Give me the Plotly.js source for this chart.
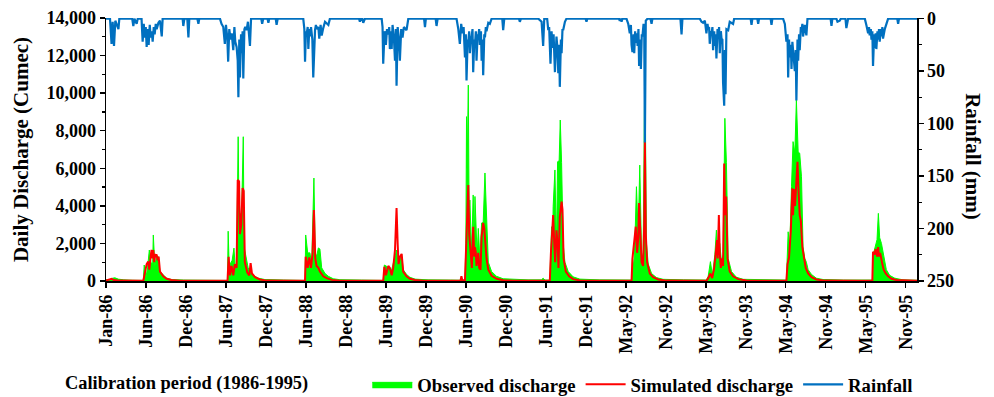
<!DOCTYPE html>
<html>
<head>
<meta charset="utf-8">
<script src="https://cdn.plot.ly/plotly-3.0.1.min.js"></script>
<style>
  html, body { margin: 0; padding: 0; background: #ffffff; }
  #chart { width: 994px; height: 397px; }
</style>
</head>
<body>
<div id="chart"></div>
<script>
// Day index 0 = 1 Jan 1986 (Excel category axis, one category per day)
const tickDays = [0,180,360,540,720,900,1080,1260,1440,1620,1800,1980,2160,2340,2520,2700,2880,3060,3240,3420,3600];
const tickLabels = ['Jan-86','Jun-86','Dec-86','Jun-87','Dec-87','Jun-88','Dec-88','Jun-89','Dec-89','Jun-90','Dec-90',
  'Jun-91','Dec-91','May-92','Nov-92','May-93','Nov-93','May-94','Nov-94','May-95','Nov-95'];

// Observed discharge (cumec): [day, value]
const observed = [
 [0,60],[20,80],[30,150],[40,170],[55,100],[80,60],[120,40],[160,30],
 [168,30],[172,850],[180,200],[187,700],[195,1650],[202,1000],[210,900],[213,2450],[220,800],[228,1350],[235,1300],[243,500],[258,300],[273,150],[295,80],[350,50],[450,40],[515,30],
 [547,30],[550,2650],[555,600],[561,950],[568,1100],[576,1750],[582,700],[588,1000],[595,7680],[600,2500],[603,3600],[610,3300],[618,7680],[622,1800],[630,1200],[640,700],[648,500],[663,300],[685,150],[715,80],[800,50],[880,40],
 [896,30],[899,2450],[908,1490],[918,1500],[926,900],[936,5480],[942,1500],[948,1300],[956,1760],[963,1700],[971,700],[986,400],[1001,250],[1023,120],[1053,70],[1150,50],[1240,40],
 [1248,30],[1253,850],[1263,800],[1275,700],[1286,600],[1298,1200],[1308,1650],[1316,800],[1323,1250],[1331,1400],[1338,600],[1353,350],[1368,200],[1391,100],[1450,60],[1550,50],[1598,40],
 [1600,120],[1606,40],[1616,50],[1620,2000],[1623,8750],[1626,6000],[1631,10430],[1635,3000],[1638,4310],[1646,1500],[1653,4580],[1658,2000],[1661,4500],[1665,2820],[1671,1300],[1676,2800],[1683,1200],[1691,3090],[1698,3100],[1706,5750],[1713,3000],[1721,1000],[1736,500],[1758,250],[1788,120],[1850,70],[1900,60],[1960,60],[1968,150],[1976,50],
 [1998,50],[2006,2890],[2010,1500],[2013,3960],[2021,5910],[2028,1700],[2033,6350],[2040,6400],[2045,8570],[2051,6300],[2058,2000],[2066,1000],[2081,500],[2103,220],[2133,100],[2220,60],[2300,50],[2360,40],
 [2366,50],[2370,1220],[2376,800],[2381,2090],[2388,5020],[2396,2500],[2403,6170],[2411,1500],[2418,1200],[2426,11940],[2433,2000],[2441,900],[2456,400],[2478,180],[2508,90],[2600,60],[2680,40],
 [2703,50],[2711,250],[2721,1030],[2730,300],[2741,1400],[2748,2710],[2756,800],[2763,2000],[2771,1000],[2778,1400],[2786,8660],[2793,6300],[2801,1200],[2816,500],[2838,200],[2868,90],[2950,60],[3050,40],
 [3063,50],[3071,2620],[3078,1750],[3086,5020],[3093,7420],[3101,6810],[3108,9630],[3116,6880],[3123,6800],[3131,5550],[3138,1800],[3146,1200],[3153,1000],[3161,600],[3176,350],[3198,150],[3228,80],[3320,50],[3440,40],
 [3453,50],[3456,1500],[3465,2000],[3471,2200],[3477,3600],[3483,2300],[3491,2000],[3498,1500],[3506,900],[3513,600],[3528,300],[3551,150],[3588,60],[3651,40]
];

// Simulated discharge (cumec): [day, value]
const simulated = [
 [0,20],[15,60],[25,120],[35,50],[60,20],[168,10],[172,300],[183,900],[190,1030],[195,600],[201,1300],[205,1650],[210,1200],[213,1650],[217,1000],[222,1400],[228,1380],[233,1100],[237,1300],[243,500],[258,250],[273,120],[295,50],[333,15],[500,10],
 [547,10],[552,1290],[558,300],[565,800],[573,300],[580,900],[588,700],[593,5380],[599,5300],[603,2500],[609,3000],[615,4950],[620,4800],[625,1000],[636,450],[645,300],[651,950],[657,400],[671,200],[693,80],[723,20],[880,10],
 [896,10],[899,1290],[908,700],[915,1250],[923,700],[930,1500],[936,3780],[942,1200],[948,800],[956,700],[963,500],[978,250],[993,150],[1016,60],[1053,15],[1240,10],
 [1248,10],[1253,760],[1260,300],[1271,800],[1278,690],[1286,300],[1293,700],[1301,1650],[1308,3880],[1313,2000],[1317,900],[1323,1290],[1331,1440],[1338,500],[1353,250],[1368,120],[1391,50],[1428,15],[1596,10],[1600,250],[1604,50],
 [1616,10],[1620,1500],[1625,3500],[1631,5110],[1635,2500],[1638,2020],[1643,1000],[1647,700],[1653,2890],[1658,1300],[1661,1800],[1665,1500],[1668,800],[1676,1500],[1680,700],[1686,600],[1691,2360],[1698,3090],[1703,2800],[1709,2000],[1713,1200],[1721,600],[1736,280],[1758,120],[1788,40],[1833,10],
 [1998,10],[2003,1500],[2009,2600],[2013,3510],[2018,2000],[2022,1000],[2028,2700],[2033,2000],[2037,700],[2043,3420],[2051,4220],[2055,3800],[2060,1200],[2070,500],[2085,250],[2103,100],[2133,30],[2300,10],
 [2366,10],[2370,1200],[2378,2000],[2385,2890],[2391,1500],[2396,2300],[2400,4150],[2405,2500],[2411,1000],[2418,800],[2423,3000],[2426,7420],[2430,2500],[2436,1000],[2448,400],[2463,200],[2486,80],[2523,20],[2650,10],
 [2703,10],[2711,150],[2721,400],[2729,150],[2738,700],[2745,1500],[2751,2180],[2754,1200],[2759,3510],[2763,1500],[2768,700],[2775,1200],[2778,800],[2783,6260],[2787,3500],[2792,4500],[2798,1200],[2808,500],[2823,250],[2846,100],[2883,25],[3000,10],
 [3063,10],[3068,900],[3075,1250],[3083,2700],[3090,4930],[3093,3500],[3098,4900],[3102,4000],[3108,5500],[3113,6350],[3117,5000],[3123,3500],[3128,3200],[3135,1800],[3143,1200],[3150,700],[3161,400],[3176,200],[3198,80],[3236,20],[3400,10],
 [3450,10],[3453,1560],[3459,1400],[3465,1700],[3471,1300],[3476,1800],[3480,1300],[3485,1500],[3491,1000],[3495,900],[3501,600],[3510,400],[3521,250],[3536,120],[3558,50],[3603,15],[3651,10]
];

// Rainfall (mm): [day, value]
const rainfall = [
 [0,0],[18,0],[25,24],[30,3],[36,26],[42,2],[56,10],[60,0],[118,0],[123,7],[128,0],[138,5],[143,0],
 [160,0],[165,22],[170,5],[174,18],[179,8],[183,27],[188,10],[192,25],[197,6],[201,18],[206,12],[210,22],[215,8],[219,15],[224,5],[228,10],[236,4],[243,2],[251,17],[255,0],
 [345,0],[348,7],[353,0],[366,0],[371,18],[375,0],[411,0],[416,5],[420,0],
 [513,0],[520,5],[528,8],[535,24],[540,6],[546,18],[550,41],[555,10],[561,20],[566,14],[573,30],[578,8],[582,22],[588,27],[593,40],[596,75],[600,20],[603,56],[608,15],[611,33],[615,12],[618,57],[623,10],[627,8],[633,11],[639,3],[648,26],[653,0],
 [699,0],[703,5],[708,0],[727,0],[731,4],[735,0],[764,0],[768,6],[773,0],
 [888,0],[893,10],[896,41],[900,12],[903,15],[908,8],[911,29],[915,10],[918,17],[923,8],[929,20],[933,56],[938,12],[941,11],[945,6],[948,10],[956,8],[960,19],[966,6],[971,16],[978,9],[986,3],[1001,6],[1008,0],
 [1139,0],[1143,3],[1147,0],[1154,0],[1158,4],[1166,0],
 [1241,0],[1245,8],[1248,43],[1254,12],[1260,25],[1265,10],[1271,15],[1275,8],[1278,29],[1283,12],[1286,29],[1290,6],[1296,18],[1301,40],[1305,10],[1308,64],[1313,8],[1319,20],[1323,40],[1329,10],[1335,18],[1341,8],[1353,11],[1361,0],
 [1432,0],[1436,8],[1440,0],[1484,0],[1488,7],[1493,0],
 [1578,0],[1586,10],[1593,24],[1599,5],[1605,14],[1610,8],[1616,37],[1620,15],[1623,59],[1628,20],[1631,22],[1635,12],[1638,33],[1643,18],[1646,17],[1650,10],[1653,51],[1658,20],[1661,25],[1665,12],[1668,40],[1673,15],[1676,17],[1680,10],[1683,25],[1688,12],[1691,40],[1695,20],[1698,54],[1703,15],[1706,18],[1710,8],[1713,12],[1721,4],[1728,5],[1736,0],
 [1784,0],[1788,11],[1793,0],[1859,0],[1863,3],[1868,0],
 [1946,0],[1961,3],[1968,26],[1973,0],[1986,0],[1991,11],[1995,8],[2001,43],[2006,12],[2010,28],[2015,15],[2021,51],[2025,20],[2028,17],[2033,30],[2036,52],[2040,25],[2043,65],[2048,20],[2051,33],[2055,10],[2058,11],[2066,3],[2073,0],
 [2159,0],[2163,3],[2167,0],[2309,0],[2313,2],[2317,0],[2321,3],[2325,0],
 [2343,0],[2351,5],[2358,14],[2363,6],[2366,25],[2370,32],[2375,15],[2378,33],[2382,12],[2385,23],[2390,14],[2393,26],[2397,10],[2400,45],[2405,20],[2408,48],[2412,15],[2415,17],[2420,5],[2423,10],[2426,118],[2430,2],[2438,0],
 [2451,0],[2456,5],[2460,0],[2586,0],[2591,15],[2595,0],
 [2673,0],[2681,3],[2688,4],[2696,2],[2703,14],[2708,5],[2711,10],[2715,8],[2718,24],[2723,12],[2726,14],[2730,8],[2733,30],[2738,12],[2741,26],[2745,15],[2748,38],[2753,10],[2756,19],[2760,8],[2763,33],[2768,12],[2771,19],[2775,20],[2778,61],[2783,83],[2786,30],[2789,72],[2793,10],[2801,11],[2808,3],[2823,5],[2828,0],
 [2902,0],[2906,6],[2910,0],[2932,0],[2936,5],[2940,0],[2992,0],[2996,6],[3000,0],
 [3048,0],[3056,5],[3060,12],[3063,22],[3068,15],[3071,56],[3075,20],[3078,37],[3083,25],[3086,48],[3090,22],[3093,33],[3098,40],[3101,50],[3105,30],[3108,78],[3113,20],[3116,40],[3120,15],[3123,30],[3128,8],[3131,11],[3135,5],[3138,17],[3146,6],[3153,16],[3158,0],
 [3262,0],[3266,7],[3270,0],[3288,0],[3293,3],[3303,2],[3308,0],[3329,0],[3333,9],[3341,0],
 [3416,0],[3423,6],[3431,14],[3435,8],[3438,16],[3443,10],[3446,20],[3450,12],[3453,45],[3458,15],[3461,28],[3465,14],[3468,29],[3473,12],[3476,20],[3480,10],[3483,22],[3488,10],[3491,17],[3495,8],[3498,19],[3506,10],[3513,5],[3521,0],
 [3562,0],[3566,5],[3570,0],[3651,0]
];

const FONT = 'Liberation Serif, Times New Roman, serif';
const col = (arr, i) => arr.map(r => r[i]);

const traces = [
  {
    x: col(observed, 0), y: col(observed, 1), type: 'scatter', mode: 'lines',
    name: 'Observed discharge', fill: 'tozeroy', fillcolor: '#00ff00',
    line: { color: '#00ff00', width: 1 }, hoverinfo: 'skip'
  },
  {
    x: col(simulated, 0), y: col(simulated, 1), type: 'scatter', mode: 'lines',
    name: 'Simulated discharge', line: { color: '#ff0000', width: 2 }, hoverinfo: 'skip'
  },
  {
    x: col(rainfall, 0), y: col(rainfall, 1), type: 'scatter', mode: 'lines', yaxis: 'y2',
    name: 'Rainfall', line: { color: '#0070c0', width: 2.2 }, hoverinfo: 'skip'
  }
];

const tickFont = { family: FONT, size: 18, weight: 'bold', color: '#000' };

const layout = {
  width: 994, height: 397,
  margin: { l: 106, r: 77, t: 18, b: 116, pad: 0, autoexpand: false },
  paper_bgcolor: '#fff', plot_bgcolor: '#fff',
  font: { family: FONT, size: 18, color: '#000', weight: 'bold' },
  showlegend: true,
  legend: {
    orientation: 'h', xref: 'container', yref: 'container',
    x: 0.3695, xanchor: 'left', y: 0.031, yanchor: 'middle',
    font: { family: FONT, size: 18.7, weight: 'bold', color: '#000' },
    bgcolor: 'rgba(0,0,0,0)', itemwidth: 40, tracegroupgap: 0
  },
  xaxis: {
    range: [0, 3651], tickmode: 'array', tickvals: tickDays, ticktext: tickLabels,
    tickangle: -90, ticks: 'outside', ticklen: 5, tickwidth: 1.5, tickcolor: '#000',
    showline: true, linecolor: '#000', linewidth: 1.5, showgrid: false, zeroline: false,
    automargin: false, tickfont: tickFont
  },
  yaxis: {
    range: [0, 14000], dtick: 2000, tickformat: ',d', ticks: 'outside', ticklen: 5, tickwidth: 1.5,
    tickcolor: '#000', showline: true, linecolor: '#000', linewidth: 1.5, showgrid: false, zeroline: false,
    minor: { dtick: 1000, ticks: 'outside', ticklen: 3, tickwidth: 1.2, tickcolor: '#000', showgrid: false },
    automargin: false, tickfont: tickFont,
    title: { text: 'Daily Discharge (Cumec)', font: { family: FONT, size: 21, weight: 'bold', color: '#000' }, standoff: 12 }
  },
  yaxis2: {
    overlaying: 'y', side: 'right', range: [250, -0.6], tickmode: 'array',
    tickvals: [0, 50, 100, 150, 200, 250], ticks: 'outside', ticklen: 5, tickwidth: 1.5, tickcolor: '#000',
    showline: true, linecolor: '#000', linewidth: 1.5, showgrid: false, zeroline: false,
    minor: { tickvals: [25, 75, 125, 175, 225], ticks: 'outside', ticklen: 3, tickwidth: 1.2, tickcolor: '#000', showgrid: false },
    automargin: false, tickfont: tickFont
  },
  annotations: [
    { text: 'Calibration period (1986-1995)', xref: 'paper', yref: 'paper', x: 0.0993, y: -0.388,
      xanchor: 'center', yanchor: 'middle', showarrow: false,
      font: { family: FONT, size: 18.4, weight: 'bold', color: '#000' } },
    { text: 'Rainfall (mm)', xref: 'paper', yref: 'paper', x: 1.069, y: 0.471, textangle: 90,
      xanchor: 'center', yanchor: 'middle', showarrow: false,
      font: { family: FONT, size: 21, weight: 'bold', color: '#000' } }
  ]
};

Plotly.newPlot('chart', traces, layout, { displayModeBar: false, staticPlot: true });
</script>
</body>
</html>
